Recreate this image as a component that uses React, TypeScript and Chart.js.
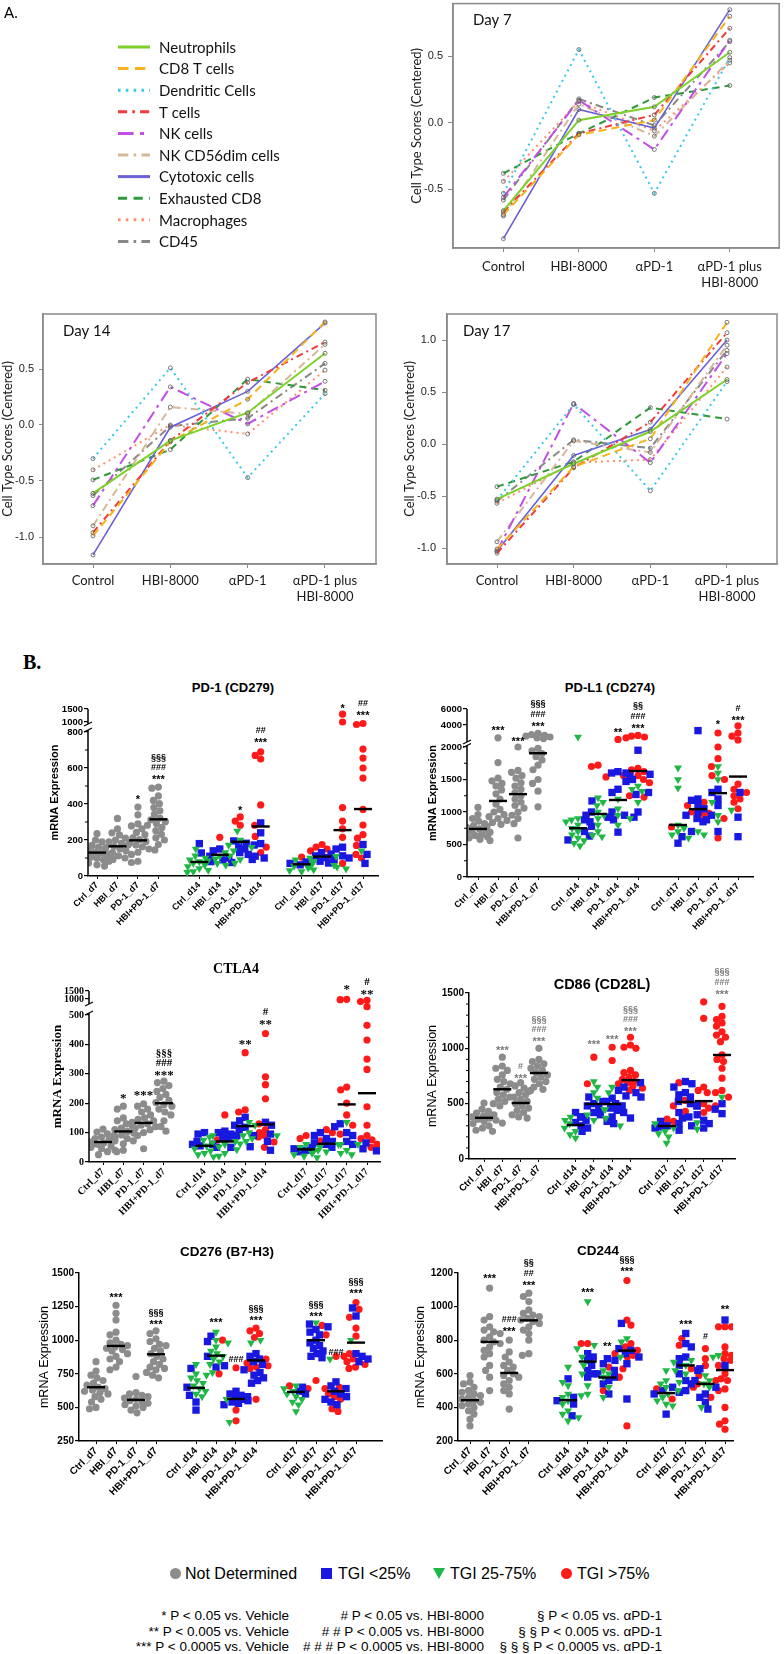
import React, { useEffect, useRef } from "react";
import { Chart, registerables } from "chart.js";
Chart.register(...registerables);

const SANS = '"Liberation Sans", Arial, Helvetica, sans-serif';
const SERIF = '"Liberation Serif", "Times New Roman", serif';
const CAL = 'Lato, "Open Sans", "Liberation Sans", sans-serif';

/* ---------------- Panel A data ---------------- */
const TREATMENTS: (string | string[])[] = ["Control", "HBI-8000", "αPD-1", ["αPD-1 plus", "HBI-8000"]];
const CELL_TYPES = ["Neutrophils", "CD8 T cells", "Dendritic Cells", "T cells", "NK cells", "NK CD56dim cells", "Cytotoxic cells", "Exhausted CD8", "Macrophages", "CD45"];
const LINE_COLORS = ["#7dd12a", "#f7b21b", "#3cc8e6", "#f23a3a", "#c24ee6", "#d6b79a", "#6a62d6", "#2f9a3a", "#ff8f73", "#888888"];
const LINE_DASH = [[], [8, 5], [2, 4], [7, 4, 2, 4], [12, 5, 3, 5], [8, 4, 2, 4], [], [7, 5], [2, 4], [8, 4, 2, 4]];
const LINE_WIDTH = [2, 2, 2, 2, 2, 2, 1.6, 2, 2, 2];

const DAY7_SCORES = [
  [-0.66, 0.02, 0.12, 0.53],
  [-0.69, -0.09, 0.02, 0.8],
  [-0.53, 0.55, -0.53, 0.49],
  [-0.67, -0.08, 0.06, 0.71],
  [-0.56, 0.17, -0.2, 0.62],
  [-0.7, 0.14, -0.1, 0.47],
  [-0.87, 0.1, -0.04, 0.85],
  [-0.38, -0.08, 0.19, 0.28],
  [-0.44, 0.16, -0.06, 0.45],
  [-0.58, 0.18, -0.02, 0.61],
];
const DAY14_SCORES = [
  [-0.61, -0.14, 0.11, 0.64],
  [-0.99, -0.15, 0.23, 0.92],
  [-0.3, 0.51, -0.47, 0.28],
  [-0.96, -0.14, 0.38, 0.74],
  [-0.72, 0.34, 0.01, 0.39],
  [-0.9, 0.16, 0.1, 0.72],
  [-1.16, -0.02, 0.3, 0.91],
  [-0.49, -0.22, 0.41, 0.31],
  [-0.4, 0.0, -0.08, 0.49],
  [-0.63, -0.01, 0.06, 0.55],
];
const DAY17_SCORES = [
  [-0.53, -0.19, 0.12, 0.62],
  [-1.01, -0.22, 0.05, 1.17],
  [-0.54, 0.38, -0.45, 0.6],
  [-1.05, -0.23, 0.21, 1.07],
  [-1.03, 0.39, -0.18, 0.87],
  [-0.94, 0.03, -0.08, 0.95],
  [-1.03, -0.11, 0.14, 1.0],
  [-0.41, -0.17, 0.35, 0.24],
  [-0.57, -0.18, -0.15, 0.74],
  [-0.55, 0.04, -0.04, 0.9],
];
const DAY7_TICKS = [-0.5, 0, 0.5];
const DAY14_TICKS = [-1, -0.5, 0, 0.5];
const DAY17_TICKS = [-1, -0.5, 0, 0.5, 1];

/* ---------------- Panel B data ---------------- */
const GROUP_LABELS = ["Ctrl_d7", "HBI_d7", "PD-1_d7", "HBI+PD-1_d7", "Ctrl_d14", "HBI_d14", "PD-1_d14", "HBI+PD-1_d14", "Ctrl_d17", "HBI_d17", "PD-1_d17", "HBI+PD-1_d17"];
const GROUP_POS = [0, 1, 2, 3, 5, 6, 7, 8, 10, 11, 12, 13];

// PD-1 (CD279)
const PD1_GREY = [
  [235, 200, 190, 170, 160, 150, 140, 132, 125, 120, 112, 105, 98, 90, 82, 72, 62, 55],
  [320, 262, 240, 228, 210, 200, 190, 182, 172, 165, 158, 150, 140, 130, 122, 112, 100, 92, 82],
  [383, 340, 290, 278, 262, 242, 230, 212, 202, 192, 182, 172, 162, 150, 132, 120, 82, 75],
  [494, 488, 445, 420, 402, 380, 362, 342, 322, 312, 302, 292, 282, 270, 252, 232, 212, 200, 175, 145],
];
const PD1_BLUE = [[180, 128, 80], [150, 140, 110, 100, 90, 75], [195, 182, 165, 150, 130, 120, 92], [295, 240, 180, 172, 110, 100], [78, 70, 62], [130, 122, 112, 102, 92, 82, 72], [160, 150, 112, 100], [175, 120, 70]];
const PD1_GREEN = [[150, 112, 100, 90, 80, 72, 62, 52, 42, 32, 25, 20], [130, 110, 95, 85, 70, 60], [250, 200, 172, 160, 140, 112, 92, 72], [], [90, 70, 55, 45, 35, 30, 25], [100, 80, 60, 55], [110, 50, 40], [140]];
const PD1_RED = [[], [215], [328, 305, 282], [690, 670, 650, 395, 282, 220, 160, 130], [105], [175, 160, 150, 140], [1300, 1000, 380, 305, 262, 215, 100, 70], [970, 950, 705, 655, 600, 544, 370, 283, 230, 210, 170, 120, 100]];
const PD1_MEAN = [130, 165, 198, 315, 78, 118, 190, 275, 65, 108, 255, 372];
const PD1_SIG = ["", "", "*", "***|###|§§§", "", "", "*", "***|##", "", "", "*", "***|##"];
const PD1_SIG_AT = [0, 0, 433, 544, 0, 0, 372, 750, 0, 0, 1577, 1308];
const PD1_TICKS = [0, 200, 400, 600, 800, 1000, 1500];

// PD-L1 (CD274)
const PDL1_GREY = [
  [1070, 960, 900, 860, 820, 790, 760, 740, 720, 700, 690, 670, 650, 640, 620, 600, 580, 560],
  [2400, 1760, 1520, 1480, 1440, 1400, 1340, 1280, 1200, 1120, 1040, 1000, 960, 930, 900, 870, 840, 810, 780],
  [2000, 1640, 1610, 1560, 1520, 1450, 1400, 1350, 1300, 1250, 1200, 1150, 1100, 1060, 1000, 950, 900, 820, 600],
  [2950, 2800, 2700, 2600, 2500, 2400, 2300, 1980, 1940, 1900, 1850, 1800, 1720, 1650, 1500, 1440, 1320, 1080],
];
const PDL1_BLUE = [[880, 850, 700, 630, 570], [1170, 1000, 950, 920, 780], [1620, 1600, 1550, 1350, 1300, 1000, 950, 920, 880, 690], [1950, 1600, 1580, 1500, 1470, 1300, 1270, 1000, 920], [620, 520], [3300, 1200, 1180, 1100, 1050, 1000, 950, 900, 850, 700], [1350, 1300, 1200, 1100, 950, 880, 700], [1300, 920, 620]];
const PDL1_GREEN = [[2500, 900, 880, 850, 800, 750, 700, 650, 600, 560, 520, 480], [1220, 1150, 1100, 1000, 950, 900, 800, 700, 640, 620], [1200, 1050, 950, 900, 800], [1400, 1350, 1320, 1150], [1680, 1500, 1370, 800, 750, 700, 650, 600], [700, 650], [1700, 1600, 1500, 1150, 950, 850], [1030]];
const PDL1_RED = [[], [1720, 1700], [2200, 1560, 1540], [2700, 2600, 2500, 2400, 1670, 1650, 1620, 1560, 1500, 1450, 1250, 1230], [770], [1150, 1100, 1000, 980, 950], [3000, 2000, 1820, 1700, 1560, 1500, 900, 600], [3900, 3000, 2600, 2130, 1430, 1350, 1300, 1250, 1200, 1150, 1050]];
const PDL1_MEAN = [740, 1170, 1275, 1905, 750, 970, 1185, 1630, 800, 1045, 1290, 1545];
const PDL1_SIG = ["", "***", "***", "***|###|§§§", "", "", "**", "***|###|§§", "", "", "*", "***|#"];
const PDL1_SIG_AT = [0, 3500, 2125, 4000, 0, 0, 3250, 3750, 0, 0, 4250, 4750];
const PDL1_TICKS = [0, 500, 1000, 1500, 2000, 4000, 6000];

// CTLA4
const CTLA4_GREY = [
  [112, 102, 96, 90, 85, 80, 76, 72, 68, 64, 60, 55, 50, 45, 40, 35, 25],
  [190, 180, 150, 140, 130, 122, 115, 110, 104, 98, 92, 86, 80, 72, 62, 40, 35],
  [198, 190, 180, 170, 160, 150, 145, 140, 135, 130, 125, 120, 115, 110, 100, 90, 45],
  [275, 270, 260, 250, 240, 230, 220, 210, 202, 195, 190, 180, 170, 160, 140, 120, 105],
];
const CTLA4_BLUE = [[100, 95, 70, 60, 55, 50], [105, 100, 95, 90, 85, 80, 60, 50], [152, 140, 125, 118, 110, 90, 52], [135, 125, 95, 90, 70, 40], [50, 45, 40, 35], [100, 90, 80, 70, 65, 60, 50], [130, 120, 100, 90, 70, 60], [65, 45, 38]];
const CTLA4_GREEN = [[85, 75, 65, 55, 45, 38, 30, 25, 18], [90, 70, 60, 52, 42, 30, 20], [135, 125, 100, 90, 80, 70, 62], [90], [60, 50, 40, 30, 25, 20, 15], [60, 50, 40, 35], [135, 60, 40, 30, 25], [60]];
const CTLA4_RED = [[], [160, 75], [372, 177, 170], [437, 290, 263, 215, 130, 110, 100, 90, 85, 68, 50], [90, 80], [110, 100, 72], [990, 980, 255, 245, 200, 160, 125, 95], [960, 920, 760, 465, 415, 350, 315, 188, 125, 90, 80, 75, 60, 50]];
const CTLA4_MEAN = [68, 104, 133, 200, 55, 70, 122, 128, 43, 62, 196, 234];
const CTLA4_SIG = ["", "*", "***", "***|###|§§§", "", "", "**", "**|#", "", "", "*", "**|#"];
const CTLA4_SIG_AT = [0, 221, 231, 300, 0, 0, 405, 473, 0, 0, 1687, 1375];
const CTLA4_TICKS = [0, 100, 200, 300, 400, 500, 1000, 1500];

// CD86 (CD28L)
const CD86_GREY = [
  [505, 450, 430, 415, 400, 390, 380, 370, 360, 350, 340, 320, 300, 280, 260, 250],
  [920, 840, 820, 800, 760, 720, 700, 680, 650, 630, 600, 580, 560, 540, 520, 500, 480, 325],
  [690, 660, 640, 620, 600, 580, 560, 540, 520, 500, 480, 460, 440, 420, 400, 380, 370],
  [1000, 900, 880, 860, 840, 820, 800, 780, 760, 740, 720, 700, 680, 650, 630, 610],
];
const CD86_BLUE = [[420, 380, 350, 330, 300, 280, 250], [560, 520, 500, 480, 460, 420, 400, 380], [550, 520, 500, 480, 460, 440, 420, 380, 340, 320], [690, 650, 620, 600, 570, 560, 370], [340, 320, 300, 290, 280, 260], [700, 680, 650, 600, 580, 560, 520, 500, 480, 420, 380, 370], [480, 450, 400, 350, 320, 300, 280], [500, 410]];
const CD86_GREEN = [[380, 350, 320, 280, 250, 220, 190], [700, 650, 600, 550, 450, 400, 370, 350], [650, 600, 450, 300], [], [320, 280, 250, 230, 200, 145], [], [330, 270], [560]];
const CD86_RED = [[], [920, 680], [1010, 890], [1100, 1030, 1010, 1000, 800, 780, 760, 740, 720, 700, 690, 680, 660, 640, 620], [360, 340], [690, 530, 480, 430], [1420, 1270, 650, 620, 600, 500, 460, 420], [1380, 1290, 1260, 1230, 1200, 1150, 1120, 1100, 1060, 940, 900, 880, 820, 730, 620, 600, 560, 480]];
const CD86_MEAN = [372, 630, 506, 777, 307, 497, 497, 713, 298, 515, 523, 940];
const CD86_SIG = ["", "***", "***|#", "***|###|§§§", "", "***", "***", "***|###|§§§", "", "", "", "***|###|§§§"];
const CD86_SIG_AT = [0, 994, 741, 1075, 0, 1048, 1093, 1165, 0, 0, 0, 1500];
const CD86_TICKS = [0, 500, 1000, 1500];

// CD276 (B7-H3)
const CD276_GREY = [
  [840, 770, 740, 720, 700, 680, 665, 650, 640, 630, 620, 610, 600, 580, 560, 540, 500, 490],
  [1260, 1200, 1150, 1060, 1040, 1000, 980, 970, 960, 950, 940, 930, 920, 900, 880, 860, 840, 800, 780],
  [730, 610, 600, 590, 580, 570, 560, 550, 540, 530, 520, 510, 500, 480, 460],
  [1070, 1050, 1010, 990, 970, 960, 940, 920, 900, 880, 860, 840, 820, 800, 790, 780, 760, 740, 720],
];
const CD276_BLUE = [[790, 650, 590, 540, 480], [1030, 990, 880, 810, 800], [620, 600, 590, 580, 570, 560, 550, 540, 530, 520], [900, 880, 860, 840, 820, 780, 760, 740, 720, 700, 680], [650, 620, 600], [1120, 1100, 1080, 1060, 1040, 1000, 980, 960, 940, 920, 900, 880, 870], [690, 660, 640, 620, 600, 580, 560, 540, 520], [1240, 1180, 900, 880, 860, 840]];
const CD276_GREEN = [[820, 750, 720, 700, 680, 660, 640, 620, 600, 580], [1060, 1000, 980, 950, 920, 900, 880, 860, 840, 820, 760, 740], [560, 390], [1000, 980], [660, 640, 620, 600, 580, 560, 540, 520, 470], [1130], [860], [1000]];
const CD276_RED = [[], [1000, 750], [795, 480, 400], [1090, 1070, 1050, 1020, 860, 830, 810, 800, 790, 560], [660, 640], [1110, 1040, 700], [880, 650, 640, 600, 580, 560, 490, 470], [1280, 1230, 1170, 1090, 1030, 900, 880, 860, 840, 820, 800, 790]];
const CD276_MEAN = [650, 957, 556, 895, 645, 885, 563, 850, 615, 1000, 620, 982];
const CD276_SIG = ["", "***", "", "***|§§§", "", "***", "###", "***|§§§", "", "***|§§§", "###", "***|§§§"];
const CD276_SIG_AT = [0, 1332, 0, 1131, 0, 1146, 854, 1160, 0, 1190, 907, 1362];
const CD276_TICKS = [250, 500, 750, 1000, 1250, 1500];

// CD244
const CD244_GREY = [
  [590, 550, 540, 520, 500, 490, 480, 470, 460, 450, 440, 430, 420, 410, 400, 380, 360, 330, 290],
  [1110, 940, 920, 880, 860, 850, 840, 820, 800, 790, 780, 760, 740, 720, 700, 650, 620, 580, 500],
  [800, 730, 700, 670, 650, 640, 620, 600, 590, 580, 560, 540, 520, 500, 480, 390],
  [1080, 1060, 1030, 980, 960, 950, 940, 930, 920, 910, 900, 880, 860, 840, 800, 720, 710],
];
const CD244_BLUE = [[570, 460, 440, 420, 350], [720, 700, 680, 650, 620, 600, 580], [690, 660, 620, 600, 580, 560, 540, 480], [900, 750, 740, 720, 700, 680, 660, 450], [520, 500, 480, 360], [840, 780, 760, 700, 690, 650, 620, 600, 560, 540, 500, 490], [630, 560, 520, 480, 460, 430, 390], [920, 650]];
const CD244_GREEN = [[640, 550, 530, 480, 460, 440, 420, 380, 360, 340, 320], [1030, 770, 750, 700, 650, 600, 530, 480, 470], [620, 600, 580, 520, 460], [810, 790, 700], [620, 560, 540, 520, 500, 480, 460, 440, 420, 410], [680, 670, 650, 620, 600, 550], [590, 560, 540, 520, 400], [710, 700]];
const CD244_RED = [[], [780, 780], [640, 580, 500], [1155, 920, 890, 780, 760, 740, 720, 710, 700, 630, 290], [510, 450], [810, 770, 630], [750, 690, 650, 590, 560, 540, 520, 460], [880, 880, 880, 760, 720, 710, 700, 690, 680, 650, 600, 570, 560, 510, 500, 400, 320, 300, 270]];
const CD244_MEAN = [443, 790, 605, 918, 443, 673, 578, 738, 485, 650, 540, 622];
const CD244_SIG = ["", "***", "***|###", "***|##|§§", "", "***", "**", "***|§§§", "", "***", "#", "**"];
const CD244_SIG_AT = [0, 1176, 861, 1135, 0, 1093, 771, 1218, 0, 902, 819, 992];
const CD244_TICKS = [200, 400, 600, 800, 1000, 1200];

const DOT_GREY = "#8c8c8c";
const DOT_BLUE = "#1818e0";
const DOT_GREEN = "#1fb847";
const DOT_RED = "#ff1a1a";

/* ---------------- helpers ---------------- */
function makeT(knots: number[][]) {
  return (v: number) => {
    for (let i = 1; i < knots.length; i++) {
      if (v <= knots[i][0] || i === knots.length - 1) {
        const [v0, h0] = knots[i - 1];
        const [v1, h1] = knots[i];
        return h0 + ((v - v0) * (h1 - h0)) / (v1 - v0);
      }
    }
    return 0;
  };
}

function swarm(ys: number[], d: number, maxOff: number): number[] {
  const order = ys.map((_, i) => i).sort((a, b) => ys[b] - ys[a]);
  const out = ys.map(() => 0);
  const done: number[] = [];
  for (const i of order) {
    let best = 0;
    let bestCost = Infinity;
    for (let k = 0; k <= maxOff * 4; k++) {
      const off = (k % 2 === 0 ? 1 : -1) * Math.ceil(k / 2) * 0.5;
      let cost = 0;
      for (const j of done) {
        const dist = Math.hypot(off - out[j], ys[i] - ys[j]);
        if (dist < d) cost += d - dist;
      }
      if (cost < bestCost - 1e-9) {
        bestCost = cost;
        best = off;
      }
      if (cost === 0) break;
    }
    out[i] = best;
    done.push(i);
  }
  return out;
}

function ChartCanvas({ x, y, w, h, build }: { x: number; y: number; w: number; h: number; build: () => any }) {
  const ref = useRef<HTMLCanvasElement | null>(null);
  useEffect(() => {
    if (!ref.current) return;
    const chart = new Chart(ref.current, build());
    return () => chart.destroy();
  }, []);
  return <canvas ref={ref} width={w} height={h} style={{ position: "absolute", left: x, top: y, width: w, height: h }} />;
}

function Txt({ x, y, font, align = "left", color = "#000", children }: any) {
  const tx = align === "center" ? "-50%" : align === "right" ? "-100%" : "0";
  return (
    <div style={{ position: "absolute", left: x, top: y, transform: `translate(${tx}, -50%)`, font, color, whiteSpace: "nowrap", lineHeight: 1 }}>
      {children}
    </div>
  );
}

/* ---------------- line charts (panel A) ---------------- */
type LineSpec = {
  scores: number[][];
  day: string;
  dayDx: number;
  box: number[];
  plot: number[];
  xFirst: number;
  xLast: number;
  zeroY: number;
  pxPerUnit: number;
  yTicks: number[];
  yTitleX: number;
  xPad: number;
  yPad: number;
  yTickLen: number;
  legend?: boolean;
};

function buildLine(s: LineSpec) {
  const [L, Tp, W, H] = s.box;
  const [pl, pt, pr, pb] = s.plot;
  const unit = (s.xLast - s.xFirst) / 3;
  const xMin = -(s.xFirst - pl) / unit;
  const xMax = 3 + (pr - s.xLast) / unit;
  const yMin = -(pb - s.zeroY) / s.pxPerUnit;
  const yMax = (s.zeroY - pt) / s.pxPerUnit;
  const titleSize = 13;
  const deco = {
    id: "frameDeco",
    afterDraw(chart: any) {
      const { ctx, chartArea: a } = chart;
      ctx.save();
      ctx.setLineDash([]);
      ctx.strokeStyle = "#8a8a8a";
      ctx.lineWidth = 1.5;
      ctx.strokeRect(a.left, a.top, a.right - a.left, a.bottom - a.top);
      ctx.fillStyle = "#111";
      ctx.font = `15px ${CAL}`;
      ctx.textAlign = "left";
      ctx.textBaseline = "middle";
      ctx.fillText(s.day, a.left + s.dayDx, a.top + 17);
      if (s.legend) {
        CELL_TYPES.forEach((name, i) => {
          const yy = 47 + 21.6 * i - Tp;
          ctx.strokeStyle = LINE_COLORS[i];
          ctx.lineWidth = 3;
          ctx.lineCap = "butt";
          ctx.setLineDash(LINE_DASH[i].map((d) => d * 1.3));
          ctx.beginPath();
          ctx.moveTo(118 - L, yy);
          ctx.lineTo(150 - L, yy);
          ctx.stroke();
          ctx.setLineDash([]);
          ctx.fillStyle = "#111";
          ctx.font = `15px ${CAL}`;
          ctx.fillText(name, 159 - L, yy + 1);
        });
      }
      ctx.restore();
    },
  };
  return {
    type: "line",
    data: {
      datasets: CELL_TYPES.map((name, i) => ({
        label: name,
        data: s.scores[i].map((v, j) => ({ x: j, y: v })),
        borderColor: LINE_COLORS[i],
        borderDash: LINE_DASH[i],
        borderWidth: LINE_WIDTH[i],
        pointRadius: 2,
        pointBackgroundColor: "rgba(255,255,255,0)",
        pointBorderColor: "#5a5a5a",
        pointBorderWidth: 0.8,
        tension: 0,
        fill: false,
      })),
    },
    options: {
      animation: false,
      responsive: false,
      maintainAspectRatio: false,
      events: [],
      layout: { padding: { left: 0, top: pt - Tp, right: L + W - pr, bottom: 0 } },
      plugins: { legend: { display: false }, tooltip: { enabled: false } },
      scales: {
        x: {
          type: "linear",
          min: xMin,
          max: xMax,
          afterBuildTicks: (sc: any) => {
            sc.ticks = [0, 1, 2, 3].map((v) => ({ value: v }));
          },
          ticks: {
            autoSkip: false,
            maxRotation: 0,
            minRotation: 0,
            padding: s.xPad,
            color: "#1a1a1a",
            font: { family: CAL, size: 13, lineHeight: 1.22 },
            callback: (_v: any, i: number) => TREATMENTS[i],
          },
          grid: { display: true, drawOnChartArea: false, drawTicks: true, tickLength: 4, color: "#8a8a8a" },
          border: { display: true, color: "#8a8a8a", width: 1.5 },
          afterFit: (sc: any) => {
            sc.height = Tp + H - pb;
          },
        },
        y: {
          type: "linear",
          min: yMin,
          max: yMax,
          afterBuildTicks: (sc: any) => {
            sc.ticks = s.yTicks.map((v) => ({ value: v }));
          },
          ticks: {
            autoSkip: false,
            padding: s.yPad,
            color: "#222",
            font: { family: SANS, size: 11 },
            callback: (v: any) => Number(v).toFixed(1),
          },
          grid: { display: true, drawOnChartArea: false, drawTicks: true, tickLength: s.yTickLen, color: "#8a8a8a" },
          border: { display: true, color: "#8a8a8a", width: 1.5 },
          title: {
            display: true,
            text: "Cell Type Scores (Centered)",
            color: "#1a1a1a",
            font: { family: CAL, size: titleSize },
            padding: { top: Math.max(0, s.yTitleX - L - titleSize * 0.6), bottom: 0 },
          },
          afterFit: (sc: any) => {
            sc.width = pl - L;
          },
        },
      },
    },
    plugins: [deco],
  };
}

/* ---------------- scatter charts (panel B) ---------------- */
type ScatterSpec = {
  box: number[];
  axisL: number;
  axisR: number;
  x0: number;
  x13: number;
  plotTop: number;
  plotBottom: number;
  knots: number[][];
  yTicks: number[];
  minor?: number;
  minorMax?: number;
  gap?: number[];
  grey: number[][];
  blue: number[][];
  green: number[][];
  red: number[][];
  means: number[];
  sig: string[];
  sigAt: number[];
  sigColor: string;
  sigFont: number;
  family: string;
  tickFont: number;
  labelFont: number;
  yTitle: string;
  yTitleFont: number;
  yTitleWeight: string;
  yTitleX: number;
};

function buildScatter(s: ScatterSpec) {
  const T = makeT(s.knots);
  const [L, Tp, W, H] = s.box;
  const plotH = s.plotBottom - s.plotTop;
  const unit = (s.x13 - s.x0) / 13;
  const xMin = -(s.x0 - s.axisL) / unit;
  const xMax = 13 + (s.axisR - s.x13) / unit;
  const groups: { v: number; c: number }[][] = GROUP_POS.map(() => []);
  s.grey.forEach((arr, g) => arr.forEach((v) => groups[g].push({ v, c: 0 })));
  [s.green, s.blue, s.red].forEach((set, ci) => set.forEach((arr, g) => arr.forEach((v) => groups[g + 4].push({ v, c: ci + 1 }))));
  const pts: { x: number; y: number }[][] = [[], [], [], []];
  groups.forEach((grp, g) => {
    const ys = grp.map((p) => T(p.v));
    const dx = swarm(ys, 6.4, 12);
    grp.forEach((p, k) => pts[p.c].push({ x: GROUP_POS[g] + dx[k] / unit, y: ys[k] }));
  });
  const deco = {
    id: "scatterDeco",
    afterDatasetsDraw(chart: any) {
      const { ctx, scales, chartArea: a } = chart;
      const x = scales.x;
      const y = scales.y;
      ctx.save();
      ctx.setLineDash([]);
      ctx.strokeStyle = "#000";
      if (s.gap) {
        const p0 = y.getPixelForValue(s.gap[0]);
        const p1 = y.getPixelForValue(s.gap[1]);
        ctx.lineWidth = 1.5;
        ctx.beginPath();
        ctx.moveTo(a.left, a.bottom);
        ctx.lineTo(a.left, p0);
        ctx.moveTo(a.left, p1);
        ctx.lineTo(a.left, a.top);
        ctx.stroke();
        ctx.lineWidth = 1.2;
        ctx.beginPath();
        ctx.moveTo(a.left - 4, p0 + 2);
        ctx.lineTo(a.left + 4, p0 - 2);
        ctx.moveTo(a.left - 4, p1 + 2);
        ctx.lineTo(a.left + 4, p1 - 2);
        ctx.stroke();
      }
      if (s.minor && s.minorMax) {
        ctx.lineWidth = 1;
        for (let v = s.knots[0][0]; v <= s.minorMax; v += s.minor) {
          if (s.yTicks.includes(v)) continue;
          const py = y.getPixelForValue(T(v));
          ctx.beginPath();
          ctx.moveTo(a.left - 3, py);
          ctx.lineTo(a.left, py);
          ctx.stroke();
        }
      }
      ctx.lineWidth = 2.4;
      s.means.forEach((m, g) => {
        const px = x.getPixelForValue(GROUP_POS[g]);
        const py = y.getPixelForValue(T(m));
        ctx.beginPath();
        ctx.moveTo(px - 9, py);
        ctx.lineTo(px + 9, py);
        ctx.stroke();
      });
      ctx.fillStyle = s.sigColor;
      ctx.textAlign = "center";
      ctx.textBaseline = "middle";
      s.sig.forEach((txt, g) => {
        if (!txt) return;
        const px = x.getPixelForValue(GROUP_POS[g]);
        const py0 = y.getPixelForValue(T(s.sigAt[g]));
        txt.split("|").forEach((line, k) => {
          const star = line[0] === "*";
          ctx.font = `bold ${star ? s.sigFont : s.sigFont - 2}px ${s.family}`;
          ctx.fillText(line, px, py0 - k * 10.5 + (star ? 2 : 0));
        });
      });
      ctx.restore();
    },
  };
  const titlePad = s.yTitleX - L - (s.yTitleFont * 1.2) / 2;
  return {
    type: "scatter",
    data: {
      datasets: [
        { label: "Not Determined", data: pts[0], pointStyle: "circle", pointRadius: 3.6, pointBackgroundColor: DOT_GREY, pointBorderWidth: 0, showLine: false },
        { label: "TGI 25-75%", data: pts[1], pointStyle: "triangle", pointRotation: 180, pointRadius: 4.6, pointBackgroundColor: DOT_GREEN, pointBorderWidth: 0, showLine: false },
        { label: "TGI <25%", data: pts[2], pointStyle: "rect", pointRadius: 5.2, pointBackgroundColor: DOT_BLUE, pointBorderWidth: 0, showLine: false },
        { label: "TGI >75%", data: pts[3], pointStyle: "circle", pointRadius: 3.6, pointBackgroundColor: DOT_RED, pointBorderWidth: 0, showLine: false },
      ],
    },
    options: {
      animation: false,
      responsive: false,
      maintainAspectRatio: false,
      events: [],
      layout: { padding: { left: 0, top: s.plotTop - Tp, right: L + W - s.axisR, bottom: 0 } },
      plugins: { legend: { display: false }, tooltip: { enabled: false } },
      scales: {
        x: {
          type: "linear",
          min: xMin,
          max: xMax,
          afterBuildTicks: (sc: any) => {
            sc.ticks = GROUP_POS.map((v) => ({ value: v }));
          },
          ticks: {
            autoSkip: false,
            maxRotation: 45,
            minRotation: 45,
            padding: 1,
            color: "#000",
            font: { family: s.family, size: s.labelFont, weight: "bold" },
            callback: (_v: any, i: number) => GROUP_LABELS[i],
          },
          grid: { display: true, drawOnChartArea: false, drawTicks: true, tickLength: 3, color: "#000", lineWidth: 1 },
          border: { display: true, color: "#000", width: 1.5 },
          afterFit: (sc: any) => {
            sc.height = Tp + H - s.plotBottom;
          },
        },
        y: {
          type: "linear",
          min: 0,
          max: plotH,
          afterBuildTicks: (sc: any) => {
            sc.ticks = s.yTicks.map((v) => ({ value: T(v) }));
          },
          ticks: {
            autoSkip: false,
            padding: 1,
            color: "#000",
            font: { family: s.family, size: s.tickFont, weight: "bold" },
            callback: (_v: any, i: number) => String(s.yTicks[i]),
          },
          grid: { display: true, drawOnChartArea: false, drawTicks: true, tickLength: 4, color: "#000", lineWidth: 1.2 },
          border: { display: !s.gap, color: "#000", width: 1.5 },
          title: {
            display: true,
            text: s.yTitle,
            color: "#000",
            font: { family: s.family, size: s.yTitleFont, weight: s.yTitleWeight },
            padding: { top: Math.max(0, titlePad), bottom: 0 },
          },
          afterFit: (sc: any) => {
            sc.width = s.axisL - L;
          },
        },
      },
    },
    plugins: [deco],
  };
}

/* ---------------- specs ---------------- */
const DAY7_SPEC: LineSpec = {
  scores: DAY7_SCORES, day: "Day 7", dayDx: 20, box: [0, -8, 784, 308], plot: [453, 2, 783, 248],
  xFirst: 504, xLast: 733, zeroY: 122, pxPerUnit: 134, yTicks: DAY7_TICKS, yTitleX: 417, xPad: 7, yPad: 5, yTickLen: 5, legend: true,
};
const DAY14_SPEC: LineSpec = {
  scores: DAY14_SCORES, day: "Day 14", dayDx: 20, box: [0, 300, 392, 310], plot: [43, 314, 376, 564],
  xFirst: 93, xLast: 325, zeroY: 425, pxPerUnit: 112, yTicks: DAY14_TICKS, yTitleX: 6, xPad: 5, yPad: 5, yTickLen: 4,
};
const DAY17_SPEC: LineSpec = {
  scores: DAY17_SCORES, day: "Day 17", dayDx: 16, box: [392, 300, 392, 310], plot: [447, 314, 777, 564],
  xFirst: 497, xLast: 727, zeroY: 444, pxPerUnit: 104, yTicks: DAY17_TICKS, yTitleX: 410, xPad: 5, yPad: 6, yTickLen: 5,
};

const PD1_SPEC: ScatterSpec = {
  box: [20, 695, 370, 245], axisL: 88, axisR: 378, x0: 97, x13: 363, plotTop: 709, plotBottom: 876,
  knots: [[0, 0], [800, 144], [1000, 154], [1500, 167]], yTicks: PD1_TICKS, minor: 100, minorMax: 800, gap: [146, 152],
  grey: PD1_GREY, blue: PD1_BLUE, green: PD1_GREEN, red: PD1_RED, means: PD1_MEAN, sig: PD1_SIG, sigAt: PD1_SIG_AT,
  sigColor: "#000", sigFont: 11, family: SANS, tickFont: 9.5, labelFont: 9, yTitle: "mRNA Expression", yTitleFont: 11, yTitleWeight: "bold", yTitleX: 55,
};
const PDL1_SPEC: ScatterSpec = {
  box: [400, 695, 384, 245], axisL: 467, axisR: 753, x0: 478, x13: 738, plotTop: 709, plotBottom: 877,
  knots: [[0, 0], [2000, 130], [2050, 136.4], [4000, 152], [6000, 168]], yTicks: PDL1_TICKS, minor: 250, minorMax: 2000, gap: [131.5, 135],
  grey: PDL1_GREY, blue: PDL1_BLUE, green: PDL1_GREEN, red: PDL1_RED, means: PDL1_MEAN, sig: PDL1_SIG, sigAt: PDL1_SIG_AT,
  sigColor: "#000", sigFont: 11, family: SANS, tickFont: 9.5, labelFont: 9, yTitle: "mRNA Expression", yTitleFont: 11, yTitleWeight: "bold", yTitleX: 433,
};
const CTLA4_SPEC: ScatterSpec = {
  box: [20, 970, 370, 265], axisL: 89, axisR: 380, x0: 103, x13: 367, plotTop: 991, plotBottom: 1162,
  knots: [[0, 0], [500, 147], [1000, 163], [1500, 171]], yTicks: CTLA4_TICKS, gap: [149, 158],
  grey: CTLA4_GREY, blue: CTLA4_BLUE, green: CTLA4_GREEN, red: CTLA4_RED, means: CTLA4_MEAN, sig: CTLA4_SIG, sigAt: CTLA4_SIG_AT,
  sigColor: "#000", sigFont: 13, family: SERIF, tickFont: 10, labelFont: 10, yTitle: "mRNA Expression", yTitleFont: 13, yTitleWeight: "bold", yTitleX: 58,
};
const CD86_SPEC: ScatterSpec = {
  box: [400, 955, 384, 280], axisL: 469, axisR: 735, x0: 484, x13: 722, plotTop: 993, plotBottom: 1159,
  knots: [[0, 0], [1500, 166]], yTicks: CD86_TICKS, minor: 100, minorMax: 1500,
  grey: CD86_GREY, blue: CD86_BLUE, green: CD86_GREEN, red: CD86_RED, means: CD86_MEAN, sig: CD86_SIG, sigAt: CD86_SIG_AT,
  sigColor: "#7a7a7a", sigFont: 11, family: SANS, tickFont: 10, labelFont: 9.5, yTitle: "mRNA Expression", yTitleFont: 12.5, yTitleWeight: "normal", yTitleX: 433,
};
const CD276_SPEC: ScatterSpec = {
  box: [20, 1240, 370, 275], axisL: 79, axisR: 382, x0: 96, x13: 356, plotTop: 1273, plotBottom: 1441,
  knots: [[250, 0], [1500, 168]], yTicks: CD276_TICKS,
  grey: CD276_GREY, blue: CD276_BLUE, green: CD276_GREEN, red: CD276_RED, means: CD276_MEAN, sig: CD276_SIG, sigAt: CD276_SIG_AT,
  sigColor: "#000", sigFont: 11, family: SANS, tickFont: 10, labelFont: 10, yTitle: "mRNA Expression", yTitleFont: 12.5, yTitleWeight: "normal", yTitleX: 45,
};
const CD244_SPEC: ScatterSpec = {
  box: [400, 1240, 384, 275], axisL: 458, axisR: 733, x0: 470, x13: 725, plotTop: 1273, plotBottom: 1441,
  knots: [[200, 0], [1200, 168]], yTicks: CD244_TICKS,
  grey: CD244_GREY, blue: CD244_BLUE, green: CD244_GREEN, red: CD244_RED, means: CD244_MEAN, sig: CD244_SIG, sigAt: CD244_SIG_AT,
  sigColor: "#000", sigFont: 11, family: SANS, tickFont: 10, labelFont: 10, yTitle: "mRNA Expression", yTitleFont: 12.5, yTitleWeight: "normal", yTitleX: 421,
};

function LineBox({ spec }: { spec: LineSpec }) {
  const [x, y, w, h] = spec.box;
  return <ChartCanvas x={x} y={y} w={w} h={h} build={() => buildLine(spec)} />;
}
function ScatterBox({ spec }: { spec: ScatterSpec }) {
  const [x, y, w, h] = spec.box;
  return <ChartCanvas x={x} y={y} w={w} h={h} build={() => buildScatter(spec)} />;
}

const FOOT_COLS = [
  { right: 289, lines: ["* P < 0.05 vs. Vehicle", "** P < 0.005 vs. Vehicle", "*** P < 0.0005 vs. Vehicle"] },
  { right: 484, lines: ["# P < 0.05 vs. HBI-8000", "# # P < 0.005 vs. HBI-8000", "# # # P < 0.0005 vs. HBI-8000"] },
  { right: 662, lines: ["§ P < 0.05 vs. αPD-1", "§ § P < 0.005 vs. αPD-1", "§ § § P < 0.0005 vs. αPD-1"] },
];
const FOOT_ROWS = [1616, 1632, 1647];

export default function App() {
  const legendFont = `16px ${SANS}`;
  return (
    <div style={{ position: "absolute", left: 0, top: 0, width: 784, height: 1654, background: "#fff", overflow: "hidden" }}>
      <LineBox spec={DAY7_SPEC} />
      <LineBox spec={DAY14_SPEC} />
      <LineBox spec={DAY17_SPEC} />
      <ScatterBox spec={PD1_SPEC} />
      <ScatterBox spec={PDL1_SPEC} />
      <ScatterBox spec={CTLA4_SPEC} />
      <ScatterBox spec={CD86_SPEC} />
      <ScatterBox spec={CD276_SPEC} />
      <ScatterBox spec={CD244_SPEC} />

      <Txt x={4} y={12} font={`15px ${CAL}`}>A.</Txt>
      <Txt x={23} y={662} font={`bold 20px ${SERIF}`}>B.</Txt>

      <Txt x={233} y={687} align="center" font={`bold 13px ${SANS}`}>PD-1 (CD279)</Txt>
      <Txt x={610} y={687} align="center" font={`bold 13px ${SANS}`}>PD-L1 (CD274)</Txt>
      <Txt x={236} y={969} align="center" font={`bold 14px ${SERIF}`}>CTLA4</Txt>
      <Txt x={602} y={984} align="center" font={`bold 14.5px ${SANS}`}>CD86 (CD28L)</Txt>
      <Txt x={227} y={1252} align="center" font={`bold 13.5px ${SANS}`}>CD276 (B7-H3)</Txt>
      <Txt x={598} y={1251} align="center" font={`bold 13.5px ${SANS}`}>CD244</Txt>

      <div style={{ position: "absolute", left: 169.5, top: 1567.5, width: 11, height: 11, borderRadius: "50%", background: DOT_GREY }} />
      <Txt x={185} y={1574} font={legendFont}>Not Determined</Txt>
      <div style={{ position: "absolute", left: 320.5, top: 1567.5, width: 11, height: 11, background: DOT_BLUE }} />
      <Txt x={338} y={1574} font={legendFont}>TGI &lt;25%</Txt>
      <div style={{ position: "absolute", left: 433, top: 1568, width: 0, height: 0, borderLeft: "6px solid transparent", borderRight: "6px solid transparent", borderTop: `11px solid ${DOT_GREEN}` }} />
      <Txt x={450} y={1574} font={legendFont}>TGI 25-75%</Txt>
      <div style={{ position: "absolute", left: 560.5, top: 1567.5, width: 11, height: 11, borderRadius: "50%", background: DOT_RED }} />
      <Txt x={577} y={1574} font={legendFont}>TGI &gt;75%</Txt>

      {FOOT_COLS.map((col, ci) =>
        col.lines.map((line, ri) => (
          <Txt key={`${ci}-${ri}`} x={col.right} y={FOOT_ROWS[ri]} align="right" font={`13.5px ${SANS}`}>
            {line}
          </Txt>
        ))
      )}
    </div>
  );
}
